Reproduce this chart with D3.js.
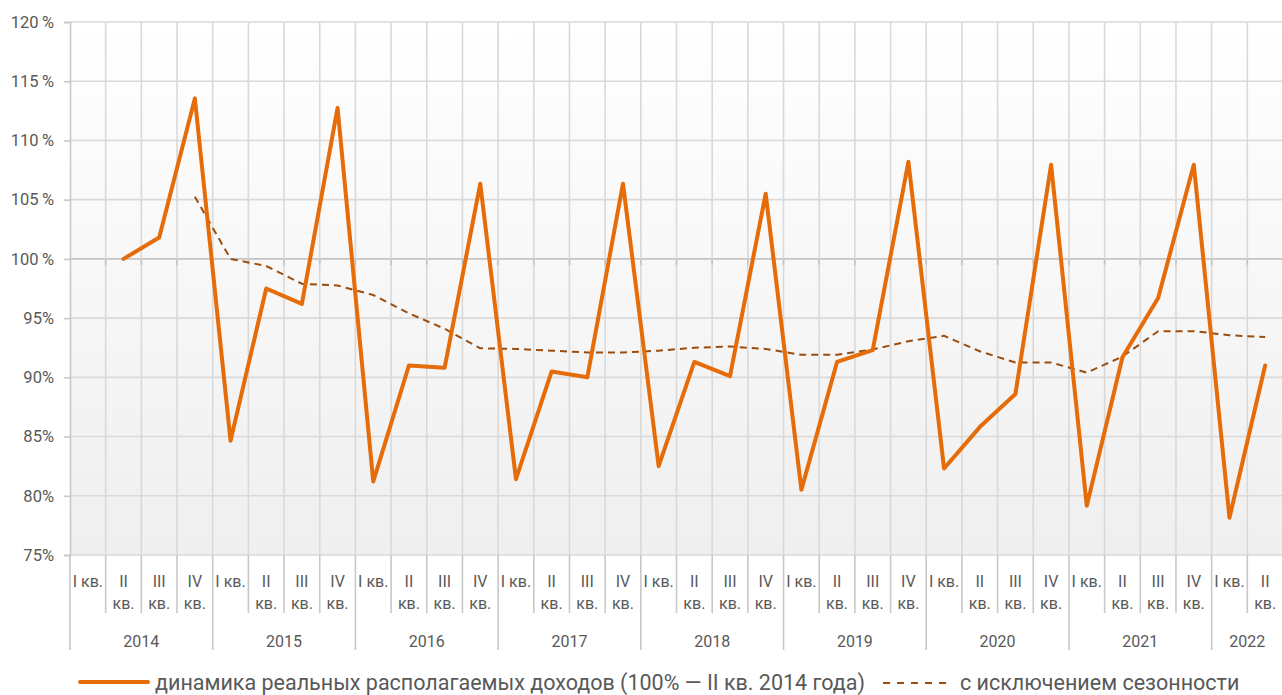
<!DOCTYPE html>
<html>
<head>
<meta charset="utf-8">
<script src="https://cdn.jsdelivr.net/npm/d3@7"></script>
<style>
  html, body { margin: 0; padding: 0; background: #ffffff; }
  svg { display: block; font-family: Roboto, "Noto Sans", sans-serif; }
</style>
</head>
<body>
<svg id="chart" width="1282" height="695"></svg>
<script>
// Quarters 2014 Q1 … 2022 Q2
const years = ["2014", "2015", "2016", "2017", "2018", "2019", "2020", "2021", "2022"];
const quarters = ["I", "II", "III", "IV"];

// Real disposable income, % of Q2 2014
const income = [null, 100.0, 101.8, 113.55,
                84.65, 97.5, 96.2, 112.75,
                81.2, 91.0, 90.8, 106.35,
                81.4, 90.5, 90.0, 106.35,
                82.5, 91.3, 90.1, 105.5,
                80.5, 91.3, 92.3, 108.2,
                82.3, 85.8, 88.6, 107.95,
                79.15, 91.7, 96.7, 107.95,
                78.15, 91.0];

// Seasonally adjusted
const seasonal = [null, null, null, 105.25,
                  100.0, 99.4, 97.9, 97.75,
                  96.95, 95.4, 94.1, 92.45,
                  92.4, 92.25, 92.1, 92.1,
                  92.25, 92.5, 92.6, 92.4,
                  91.9, 91.9, 92.35, 93.05,
                  93.5, 92.2, 91.25, 91.25,
                  90.4, 91.75, 93.9, 93.9,
                  93.55, 93.4];

const yTicks = [75, 80, 85, 90, 95, 100, 105, 110, 115, 120];
const legendLabels = ["динамика реальных располагаемых доходов (100% — II кв. 2014 года)",
                      "с исключением сезонности"];

// category keys built from years × quarters
const categories = [];
years.forEach(yr => quarters.forEach(q => categories.push(yr + "-" + q)));
categories.length = income.length;

const svg = d3.select("#chart");
const plotLeft = 70, plotRight = 1283, plotTop = 22, plotBottom = 555;
const textColor = "#595959";

const x = d3.scaleBand().domain(categories).range([plotLeft, plotRight]).padding(0);
const y = d3.scaleLinear().domain([75, 120]).range([plotBottom, plotTop]);
const cx = c => x(c) + x.bandwidth() / 2;

// plot background: white fading to light grey
const defs = svg.append("defs");
const grad = defs.append("linearGradient").attr("id", "bg")
  .attr("x1", 0).attr("y1", 0).attr("x2", 0).attr("y2", 1);
grad.append("stop").attr("offset", "0%").attr("stop-color", "#ffffff");
grad.append("stop").attr("offset", "100%").attr("stop-color", "#efefef");
svg.append("rect").attr("x", plotLeft).attr("y", plotTop)
  .attr("width", plotRight - plotLeft).attr("height", plotBottom - plotTop)
  .attr("fill", "url(#bg)");

// gridlines
const grid = svg.append("g");
grid.selectAll("line.h").data(yTicks).join("line")
  .attr("x1", plotLeft).attr("x2", plotRight)
  .attr("y1", d => y(d)).attr("y2", d => y(d))
  .attr("stroke", d => d === 100 ? "#c4c4c4" : "#d9d9d9")
  .attr("stroke-width", 1.6);
grid.selectAll("line.v").data(categories.slice(1)).join("line")
  .attr("x1", d => x(d)).attr("x2", d => x(d))
  .attr("y1", plotTop).attr("y2", plotBottom)
  .attr("stroke", "#d9d9d9").attr("stroke-width", 1.6);

// small tick marks hanging from the 100% line
grid.selectAll("line.t").data(categories.slice(1)).join("line")
  .attr("x1", d => x(d)).attr("x2", d => x(d))
  .attr("y1", y(100)).attr("y2", y(100) + 6)
  .attr("stroke", "#c4c4c4").attr("stroke-width", 1.6);

// y axis
const yAxis = svg.append("g").attr("transform", `translate(${plotLeft},0)`)
  .call(d3.axisLeft(y).tickValues(yTicks).tickSize(6).tickPadding(10)
        .tickFormat(d => d >= 100 ? d + "\u2009%" : d + "%"));
yAxis.select(".domain").attr("stroke", "#c8c8c8").attr("stroke-width", 1.6);
yAxis.selectAll(".tick line").attr("stroke", "#c8c8c8").attr("stroke-width", 1.6);
yAxis.selectAll(".tick text").attr("fill", textColor)
  .style("font-size", "16.5px").style("font-family", "Roboto, sans-serif");

// category separators below the plot
const sep = svg.append("g");
sep.selectAll("line").data(categories.concat(["end"])).join("line")
  .attr("x1", (d, i) => i < categories.length ? x(d) : plotRight)
  .attr("x2", (d, i) => i < categories.length ? x(d) : plotRight)
  .attr("y1", plotBottom)
  .attr("y2", (d, i) => i % 4 === 0 ? 650 : 613)
  .attr("stroke", "#c8c8c8").attr("stroke-width", 1.6);

// quarter labels
const ql = svg.append("g").attr("fill", textColor)
  .style("font-size", "16px").attr("text-anchor", "middle");
categories.forEach((c, i) => {
  const q = quarters[i % 4];
  if (q === "I") {
    ql.append("text").attr("x", cx(c)).attr("y", 587).text(q + " кв.");
  } else {
    ql.append("text").attr("x", cx(c)).attr("y", 587).text(q);
    ql.append("text").attr("x", cx(c)).attr("y", 609).text("кв.");
  }
});

// year labels, centred on their quarters
const yl = svg.append("g").attr("fill", textColor)
  .style("font-size", "16px").attr("text-anchor", "middle");
years.forEach(yr => {
  const qs = categories.filter(c => c.startsWith(yr));
  const x0 = x(qs[0]), x1 = x(qs[qs.length - 1]) + x.bandwidth();
  yl.append("text").attr("x", (x0 + x1) / 2).attr("y", 647).text(yr);
});

// series lines
const line = arr => d3.line()
  .defined(d => d.v !== null)
  .x(d => cx(d.c)).y(d => y(d.v))(categories.map((c, i) => ({ c, v: arr[i] })));

svg.append("path").attr("d", line(seasonal))
  .attr("fill", "none").attr("stroke", "#9a4d0e").attr("stroke-width", 2)
  .attr("stroke-dasharray", "7,5");

svg.append("path").attr("d", line(income))
  .attr("fill", "none").attr("stroke", "#e66c0a").attr("stroke-width", 4)
  .attr("stroke-linejoin", "round").attr("stroke-linecap", "round");

// legend
const lg = svg.append("g").style("font-size", "21.5px").attr("fill", textColor);
const ly = 682;
let lx = 80;
lg.append("line").attr("x1", lx).attr("x2", lx + 68).attr("y1", ly).attr("y2", ly)
  .attr("stroke", "#e66c0a").attr("stroke-width", 4).attr("stroke-linecap", "round");
lx += 75;
const t1 = lg.append("text").attr("x", lx).attr("y", ly + 8).text(legendLabels[0]);
lx += t1.node().getComputedTextLength() + 18;
lg.append("line").attr("x1", lx).attr("x2", lx + 64).attr("y1", ly + 1).attr("y2", ly + 1)
  .attr("stroke", "#9a4d0e").attr("stroke-width", 2).attr("stroke-dasharray", "7,7");
lx += 77;
lg.append("text").attr("x", lx).attr("y", ly + 8).text(legendLabels[1]);
</script>
</body>
</html>
